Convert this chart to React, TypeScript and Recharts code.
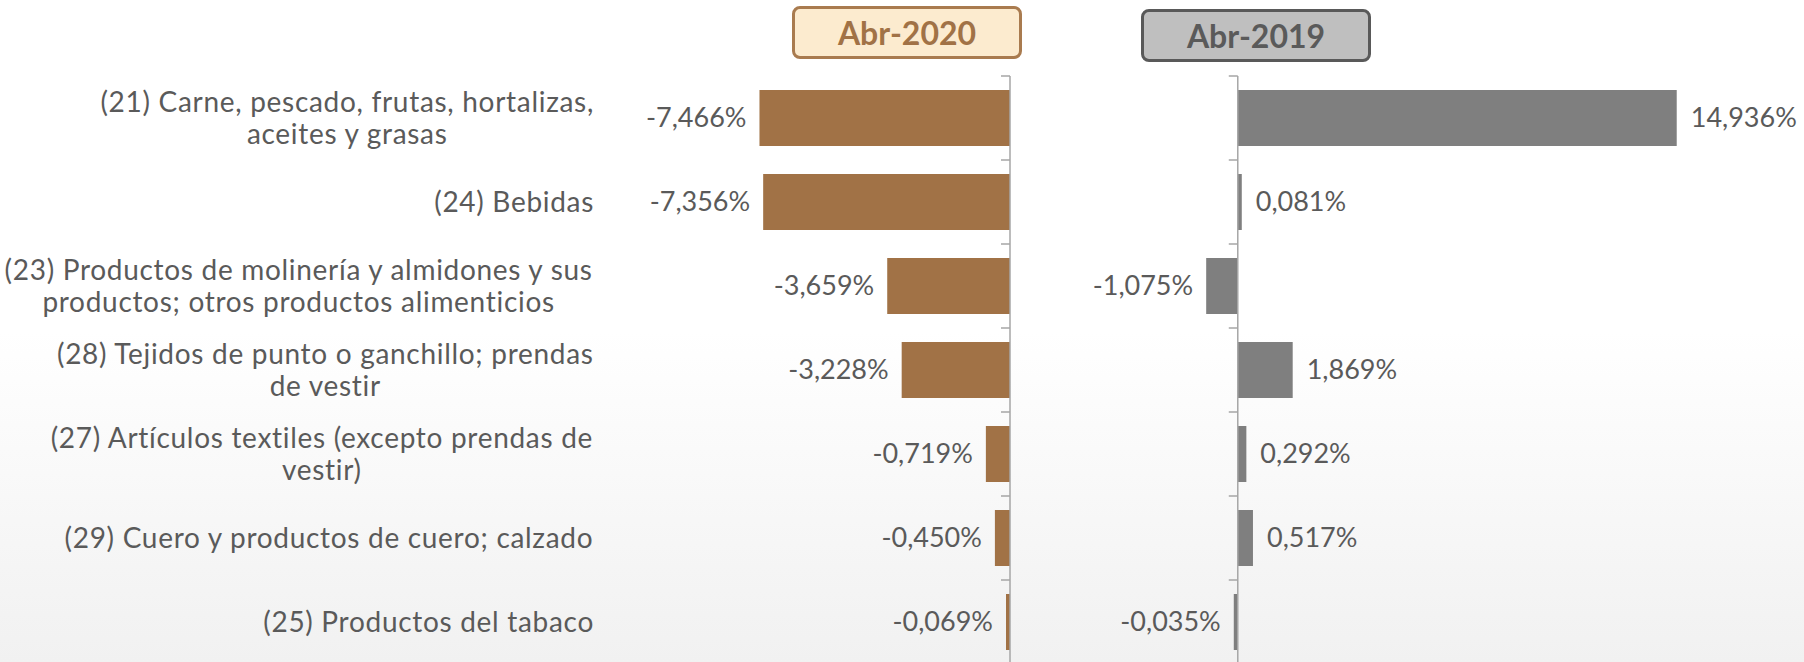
import React from "react";
import { BarChart, Bar, XAxis, YAxis, LabelList, ReferenceLine } from "recharts";

// categories (line breaks as in the original slide)
const categories = [
  "(21) Carne, pescado, frutas, hortalizas,\naceites y grasas",
  "(24) Bebidas",
  "(23) Productos de molinería y almidones y sus\nproductos; otros productos alimenticios",
  "(28) Tejidos de punto o ganchillo; prendas\nde vestir",
  "(27) Artículos textiles (excepto prendas de\nvestir)",
  "(29) Cuero y productos de cuero; calzado",
  "(25) Productos del tabaco",
];
const abr2020 = [-7.466, -7.356, -3.659, -3.228, -0.719, -0.45, -0.069];
const abr2019 = [14.936, 0.081, -1.075, 1.869, 0.292, 0.517, -0.035];
const seriesNames = ["Abr-2020", "Abr-2019"];

const data = categories.map((cat, i) => ({ cat, a2020: abr2020[i], a2019: abr2019[i] }));

const FONT = "Lato, 'Open Sans', sans-serif";
const TEXT = "#5a5a5a";
const AXIS = "#a6a6a6";
const BROWN = "#a17246";
const GRAY = "#7f7f7f";
const CAT_SIZE = 28;
const CAT_SPACING = 0.7;
const VAL_SIZE = 27;
const LINE_H = 32;
const LABEL_RIGHT = 594;

const H = 680;
const MT = 76;
const MB = 16;
const BAND = (H - MT - MB) / categories.length;

// left chart geometry
const L_W = 1020;
const L_MR = 10;
const L_DOMAIN: [number, number] = [-9, 0];
const L_ZERO = L_W - L_MR;
// right chart geometry
const R_LEFT = 1040;
const R_W = 764;
const R_ML = 139;
const R_MR = 96;
const R_DOMAIN: [number, number] = [-2, 16];
const R_ZERO = R_ML + ((0 - R_DOMAIN[0]) / (R_DOMAIN[1] - R_DOMAIN[0])) * (R_W - R_ML - R_MR);

let ctx: CanvasRenderingContext2D | null = null;
function textWidth(s: string, size: number) {
  if (!ctx && typeof document !== "undefined") ctx = document.createElement("canvas").getContext("2d");
  if (!ctx) return s.length * size * 0.5;
  ctx.font = `${size}px ${FONT}`;
  return ctx.measureText(s).width + s.length * CAT_SPACING;
}

const fmt = (v: number) => v.toFixed(3).replace(".", ",") + "%";

// small tick marks between categories, pointing left of the zero line
function BoundaryMarks({ zeroX, y, index }: { zeroX: number; y: number; index: number }) {
  return (
    <g>
      <line x1={zeroX - 9} x2={zeroX} y1={y - BAND / 2} y2={y - BAND / 2} stroke={AXIS} strokeWidth={1.5} />
      {index === categories.length - 1 && (
        <line x1={zeroX - 9} x2={zeroX} y1={y + BAND / 2} y2={y + BAND / 2} stroke={AXIS} strokeWidth={1.5} />
      )}
    </g>
  );
}

function CategoryTick({ y, payload, index }: any) {
  const lines = String(payload.value).split("\n");
  const maxW = Math.max(...lines.map((l) => textWidth(l, CAT_SIZE)));
  const cx = LABEL_RIGHT - maxW / 2;
  const y0 = y - ((lines.length - 1) * LINE_H) / 2;
  return (
    <g>
      <text fill={TEXT} fontSize={CAT_SIZE} fontFamily={FONT} textAnchor="middle" letterSpacing={CAT_SPACING}>
        {lines.map((l, i) => (
          <tspan key={i} x={cx} y={y0 + i * LINE_H} dy="0.35em">
            {l}
          </tspan>
        ))}
      </text>
      <BoundaryMarks zeroX={L_ZERO} y={y} index={index} />
    </g>
  );
}

function RightTick({ y, index }: any) {
  return <BoundaryMarks zeroX={R_ZERO} y={y} index={index} />;
}

function ValueLabel(props: any) {
  const { x, y, width, height, value } = props;
  const v = Number(value);
  const left = Math.min(x, x + width);
  const right = Math.max(x, x + width);
  const neg = v < 0;
  return (
    <text
      x={neg ? left - 13 : right + 14}
      y={y + height / 2}
      dy="0.35em"
      textAnchor={neg ? "end" : "start"}
      fill={TEXT}
      fontSize={VAL_SIZE}
      fontFamily={FONT}
    >
      {fmt(v)}
    </text>
  );
}

function Header({ text, left, top, bg, border, color }: any) {
  return (
    <div
      style={{
        position: "absolute",
        left,
        top,
        width: 224,
        height: 47,
        background: bg,
        border: `3px solid ${border}`,
        borderRadius: 8,
        color,
        fontFamily: FONT,
        fontWeight: 700,
        fontSize: 32,
        display: "flex",
        alignItems: "center",
        justifyContent: "center",
      }}
    >
      {text}
    </div>
  );
}

export default function App() {
  return (
    <div
      style={{
        position: "absolute",
        left: 0,
        top: 0,
        width: 1804,
        height: 662,
        overflow: "hidden",
        background: "linear-gradient(180deg, #ffffff 0%, #ffffff 50%, #f1f1f1 100%)",
      }}
    >
      <Header text={seriesNames[0]} left={792} top={6} bg="#fcebcf" border="#a97b4f" color={BROWN} />
      <Header text={seriesNames[1]} left={1141} top={9} bg="#bfbfbf" border="#595959" color={TEXT} />

      <div style={{ position: "absolute", left: 0, top: 0 }}>
        <BarChart
          width={L_W}
          height={H}
          data={data}
          layout="vertical"
          margin={{ top: MT, right: L_MR, bottom: MB, left: 0 }}
        >
          <XAxis type="number" domain={L_DOMAIN} hide />
          <YAxis
            type="category"
            dataKey="cat"
            width={708}
            axisLine={false}
            tickLine={false}
            tick={<CategoryTick />}
            interval={0}
          />
          <ReferenceLine x={0} stroke={AXIS} strokeWidth={1.5} />
          <Bar dataKey="a2020" fill={BROWN} barSize={56} minPointSize={4} isAnimationActive={false}>
            <LabelList dataKey="a2020" content={<ValueLabel />} />
          </Bar>
        </BarChart>
      </div>

      <div style={{ position: "absolute", left: R_LEFT, top: 0 }}>
        <BarChart
          width={R_W}
          height={H}
          data={data}
          layout="vertical"
          margin={{ top: MT, right: R_MR, bottom: MB, left: R_ML - 1 }}
        >
          <XAxis type="number" domain={R_DOMAIN} hide />
          <YAxis
            type="category"
            dataKey="cat"
            width={1}
            axisLine={false}
            tickLine={false}
            tick={<RightTick />}
            interval={0}
          />
          <ReferenceLine x={0} stroke={AXIS} strokeWidth={1.5} />
          <Bar dataKey="a2019" fill={GRAY} barSize={56} minPointSize={4} isAnimationActive={false}>
            <LabelList dataKey="a2019" content={<ValueLabel />} />
          </Bar>
        </BarChart>
      </div>
    </div>
  );
}
